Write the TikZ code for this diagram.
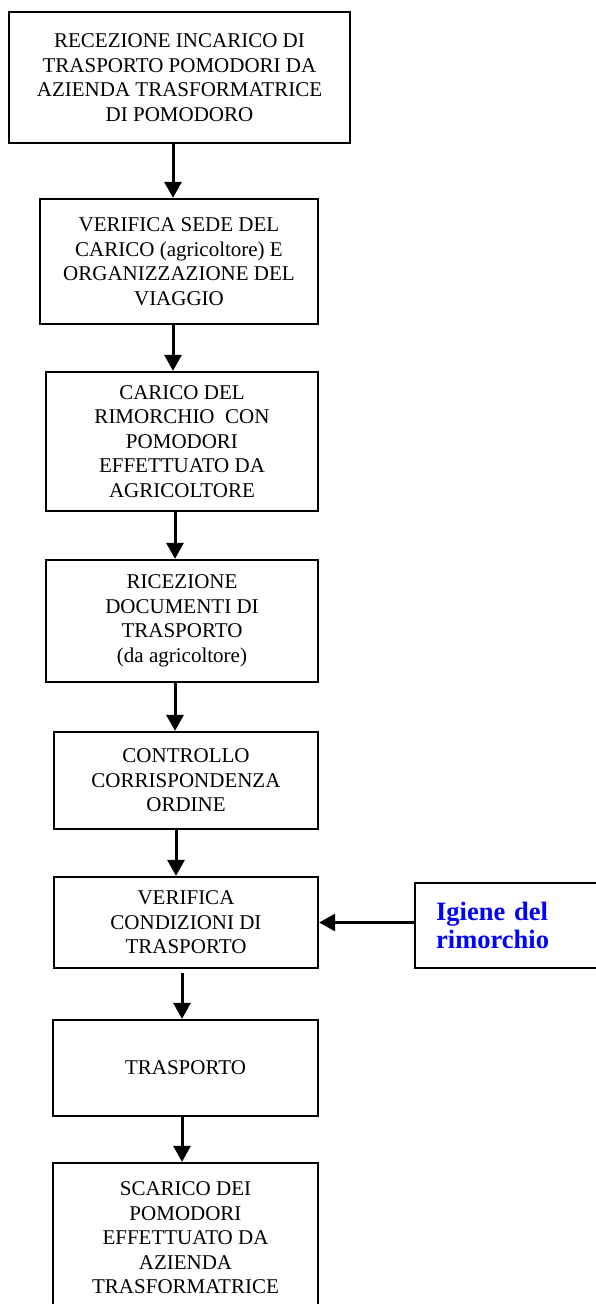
\documentclass[tikz,border=0pt]{standalone}
\usepackage{fontspec}
\setmainfont{Liberation Serif}
\usetikzlibrary{arrows.meta}
\tikzset{
BOX/.style ={draw=black,line width=2.3pt,inner sep=0pt,align=center,font=\fontsize{21}{24.5}\selectfont},
FLOW/.style ={draw=black,line width=3pt,-{Triangle[length=16pt,width=17pt]}},
NOTE/.style={draw=black,line width=2.3pt,inner xsep=21pt,inner ysep=0pt,align=left,text=blue,font=\fontsize{26.5}{28.5}\selectfont\bfseries},
}
\begin{document}
\begin{tikzpicture} %trasporto pomodori
[x=1pt, y=-1pt]
	\clip (0,0) rectangle (596,1304);
	\node[BOX,minimum width=341pt,minimum height=131pt] (b1) at (179.5,77.5) {RECEZIONE INCARICO DI\\TRASPORTO POMODORI DA\\AZIENDA TRASFORMATRICE\\DI POMODORO};
	\node[BOX,minimum width=278pt,minimum height=125pt] (b2) at (179,261.5) {VERIFICA SEDE DEL\\CARICO (agricoltore) E\\ORGANIZZAZIONE DEL\\VIAGGIO};
	\node[BOX,minimum width=272pt,minimum height=139pt] (b3) at (182,441.5) {CARICO DEL\\RIMORCHIO\ \ CON\\POMODORI\\EFFETTUATO DA\\AGRICOLTORE};
	\node[BOX,minimum width=272pt,minimum height=122pt] (b4) at (182,621) {RICEZIONE\\DOCUMENTI DI\\TRASPORTO\\(da agricoltore)};
	\node[BOX,minimum width=264pt,minimum height=97pt] (b5) at (186,780.5) {CONTROLLO\\CORRISPONDENZA\\ORDINE};
	\node[BOX,minimum width=264pt,minimum height=91pt] (b6) at (186,922.5) {VERIFICA\\CONDIZIONI DI\\TRASPORTO};
	\node[NOTE,anchor=west,text width=185pt,minimum height=85pt] (b7) at (414,925.5) {Igiene del\\rimorchio};
	\node[BOX,minimum width=265pt,minimum height=96pt] (b8) at (185.5,1068) {TRASPORTO};
	\node[BOX,minimum width=265pt,minimum height=150pt] (b9) at (185.5,1238) {SCARICO DEI\\POMODORI\\EFFETTUATO DA\\AZIENDA\\TRASFORMATRICE};
	\path[FLOW] ([xshift=-6.5pt]b1.south) -- ([xshift=-6pt]b2.north);
	\path[FLOW] ([xshift=-6pt]b2.south) -- ([xshift=-9pt]b3.north);
	\path[FLOW] ([xshift=-7pt]b3.south) -- ([xshift=-7pt]b4.north);
	\path[FLOW] ([xshift=-7pt]b4.south) -- ([xshift=-11pt]b5.north);
	\path[FLOW] ([xshift=-10pt]b5.south) -- ([xshift=-10pt]b6.north);
	\path[FLOW] ([xshift=-4pt,yshift=-4pt]b6.south) -- ([xshift=-3.5pt]b8.north);
	\path[FLOW] ([xshift=-3.5pt]b8.south) -- ([xshift=-3.5pt]b9.north);
	\path[FLOW] (b7.west |- b6.east) -- (b6.east);
\end{tikzpicture}
\end{document}
